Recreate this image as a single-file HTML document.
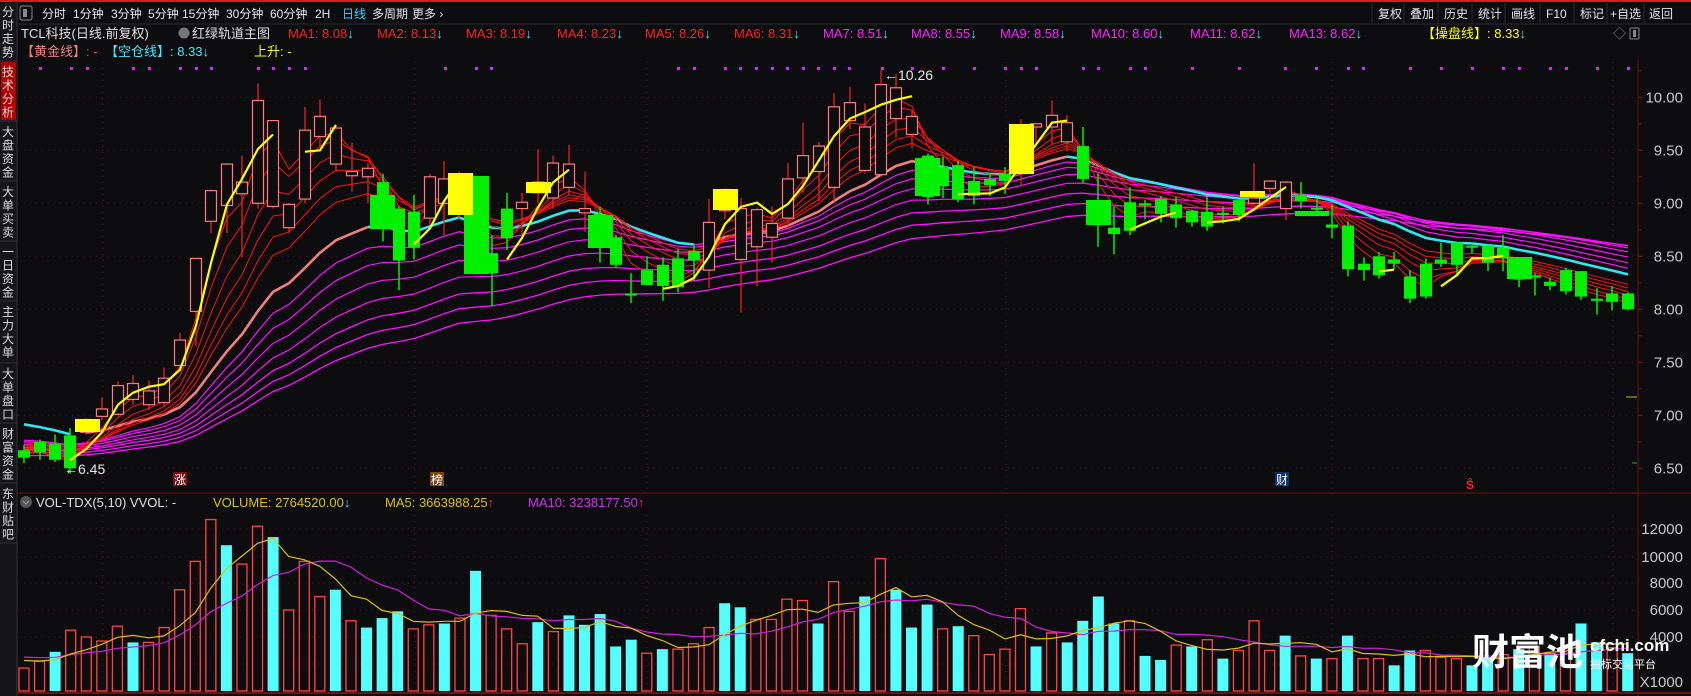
<!DOCTYPE html>
<html><head><meta charset="utf-8">
<style>
html,body{margin:0;padding:0;background:#0d0d10;width:1691px;height:696px;overflow:hidden}
svg{display:block}
text{font-family:"Liberation Sans","Noto Sans CJK SC",sans-serif}
</style></head>
<body>
<svg id="s" width="1691" height="696" xmlns="http://www.w3.org/2000/svg">
<rect width="1691" height="696" fill="#0d0d10"/>
<rect x="0" y="0" width="1691" height="2" fill="#d02020"/>
<rect x="0" y="2" width="17" height="694" fill="#16161a"/>
<line x1="17" y1="2" x2="17" y2="696" stroke="#333" stroke-width="1"/>
<g id="side" font-size="12" fill="#ddd"></g>
<line x1="17" y1="24" x2="1691" y2="24" stroke="#2a2a2e"/>
<rect x="20" y="6" width="12" height="14" fill="none" stroke="#888" rx="2"/>
<rect x="23" y="9" width="4" height="8" fill="#888"/>
<g font-size="12" fill="#e6e6e6">
<text x="42" y="18">分时</text><text x="73" y="18">1分钟</text><text x="111" y="18">3分钟</text><text x="148" y="18">5分钟</text><text x="182" y="18">15分钟</text><text x="226" y="18">30分钟</text><text x="270" y="18">60分钟</text><text x="315" y="18">2H</text><text x="342" y="18" fill="#39d0ff">日线</text><text x="372" y="18">多周期</text><text x="412" y="18">更多 ›</text>
<text x="1378" y="18">复权</text><text x="1410" y="18">叠加</text><text x="1444" y="18">历史</text><text x="1478" y="18">统计</text><text x="1511" y="18">画线</text><text x="1546" y="18">F10</text><text x="1580" y="18">标记</text><text x="1610" y="18">+自选</text><text x="1649" y="18">返回</text>
</g>
<g stroke="#2a2a2e"><line x1="1372" y1="3" x2="1372" y2="24"/><line x1="1404" y1="3" x2="1404" y2="24"/><line x1="1438" y1="3" x2="1438" y2="24"/><line x1="1472" y1="3" x2="1472" y2="24"/><line x1="1505" y1="3" x2="1505" y2="24"/><line x1="1540" y1="3" x2="1540" y2="24"/><line x1="1574" y1="3" x2="1574" y2="24"/><line x1="1607" y1="3" x2="1607" y2="24"/><line x1="1644" y1="3" x2="1644" y2="24"/></g>
<g font-size="13">
<text x="21" y="38" fill="#e0e0e0">TCL科技(日线.前复权)</text>
<circle cx="184" cy="33" r="5.5" fill="#777"/>
<text x="192" y="38" fill="#e0e0e0">红绿轨道主图</text>
<text x="288" y="38" fill="#ff2020">MA1: 8.08<tspan fill="#40e0ff">↓</tspan></text>
<text x="377" y="38" fill="#ff2020">MA2: 8.13<tspan fill="#40e0ff">↓</tspan></text>
<text x="466" y="38" fill="#ff2020">MA3: 8.19<tspan fill="#40e0ff">↓</tspan></text>
<text x="557" y="38" fill="#ff2020">MA4: 8.23<tspan fill="#40e0ff">↓</tspan></text>
<text x="645" y="38" fill="#ff2020">MA5: 8.26<tspan fill="#40e0ff">↓</tspan></text>
<text x="734" y="38" fill="#ff2020">MA6: 8.31<tspan fill="#40e0ff">↓</tspan></text>
<text x="823" y="38" fill="#ff20ff">MA7: 8.51<tspan fill="#40e0ff">↓</tspan></text>
<text x="911" y="38" fill="#ff20ff">MA8: 8.55<tspan fill="#40e0ff">↓</tspan></text>
<text x="1000" y="38" fill="#ff20ff">MA9: 8.58<tspan fill="#40e0ff">↓</tspan></text>
<text x="1091" y="38" fill="#ff20ff">MA10: 8.60<tspan fill="#40e0ff">↓</tspan></text>
<text x="1190" y="38" fill="#ff20ff">MA11: 8.62<tspan fill="#40e0ff">↓</tspan></text>
<text x="1289" y="38" fill="#ff20ff">MA13: 8.62<tspan fill="#40e0ff">↓</tspan></text>
<text x="1422" y="38" fill="#ffff00">【操盘线】: 8.33<tspan fill="#40e0ff">↓</tspan></text>
<text x="1613" y="38" fill="#888">◇</text>
<rect x="1630" y="28" width="9" height="11" fill="none" stroke="#888" rx="1"/><rect x="1633" y="30" width="3" height="7" fill="#888"/>
<text x="21" y="56" fill="#f08080">【黄金线】<tspan fill="#ff4040">: -</tspan></text>
<text x="105" y="56" fill="#40e8ff">【空仓线】: 8.33↓</text>
<text x="254" y="56" fill="#ffff00">上升: -</text>
</g>
<g id="grid"></g>
<g id="chart"></g>
<line x1="1638" y1="60" x2="1638" y2="696" stroke="#6a1515"/>
<line x1="17" y1="493" x2="1691" y2="493" stroke="#6a1515"/>
<line x1="17" y1="693" x2="1691" y2="693" stroke="#6a1515" stroke-width="2"/>
<g font-size="15" fill="#c8c8c8" text-anchor="end" id="axis"></g>
<circle cx="26" cy="502" r="6" fill="#555"/>
<path d="M23 501 L26 504 L29 501" stroke="#999" fill="none"/>
<g font-size="13">
<text x="36" y="507" fill="#e0e0e0">VOL-TDX(5,10) VVOL: -</text>
<text x="213" y="507" fill="#e0c000">VOLUME: 2764520.00<tspan fill="#40e0ff">↓</tspan></text>
<text x="385" y="507" fill="#e0c000">MA5: 3663988.25<tspan fill="#ff3030">↑</tspan></text>
<text x="528" y="507" fill="#d030f0">MA10: 3238177.50<tspan fill="#ff3030">↑</tspan></text>
</g>
<rect x="173" y="472" width="14" height="14" fill="#7a0f0f"/><text x="174" y="484" font-size="12" fill="#fff">涨</text>
<rect x="430" y="472" width="14" height="14" fill="#7a4510"/><text x="431" y="484" font-size="12" fill="#fff">榜</text>
<rect x="1275" y="472" width="14" height="14" fill="#10306a"/><text x="1276" y="484" font-size="12" fill="#fff">财</text>
<text x="1466" y="489" font-size="12" fill="#ff2020" font-weight="bold">Ŝ</text>
<text x="1472" y="665" font-size="37" font-weight="bold" fill="#ffffff">财富池</text>
<text x="1590" y="651" font-size="17" font-weight="bold" fill="#ffffff">cfchi.com</text>
<text x="1590" y="668" font-size="11" fill="#ffffff">指标交易平台</text>
</svg>
<script>
var NS="http://www.w3.org/2000/svg";
function el(p,t,a){var e=document.createElementNS(NS,t);for(var k in a)e.setAttribute(k,a[k]);p.appendChild(e);return e;}
var chart=document.getElementById('chart'),grid=document.getElementById('grid'),axis=document.getElementById('axis'),side=document.getElementById('side');
function Y(p){return 97.3+(10-p)*106;}
var secs=[["分时走势",2,60,0],["技术分析",62,120,1],["大盘资金",122,180,0],["大单买卖",182,240,0],["一日资金",242,300,0],["主力大单",302,362,0],["大单盘口",364,422,0],["财富资金",424,482,0],["东财贴吧",484,542,0]];
secs.forEach(function(s){if(s[3])el(side,'rect',{x:1,y:s[1],width:15,height:s[2]-s[1],fill:'#b00000'});el(side,'line',{x1:0,y1:s[2]+1,x2:17,y2:s[2]+1,stroke:'#333'});
for(var i=0;i<4;i++){var t=el(side,'text',{x:2,y:s[1]+14+i*13.5});t.textContent=s[0][i];}});
function dotted(x1,y1,x2,y2){el(grid,'line',{x1:x1,y1:y1,x2:x2,y2:y2,stroke:'#5a1010','stroke-dasharray':'1,5'});}
[10,9.5,9,8.5,8,7.5,7,6.5].forEach(function(p){var y=Y(p);dotted(18,y,1637,y);var t=el(axis,'text',{x:1683,y:y+5});t.textContent=p.toFixed(2);el(grid,'line',{x1:1638,y1:y,x2:1643,y2:y,stroke:'#6a1515'});});
for(var p=6.5;p<10.3;p+=0.25){el(grid,'line',{x1:1638,y1:Y(p),x2:1642,y2:Y(p),stroke:'#6a1515'});}
[103,415,647,1006,1332,1613].forEach(function(x){dotted(x,62,x,490);dotted(x,515,x,690);});
[[12000,529],[10000,557],[8000,583],[6000,610],[4000,637]].forEach(function(a){dotted(18,a[1],1637,a[1]);var t=el(axis,'text',{x:1683,y:a[1]+5});t.textContent=a[0];});
dotted(18,664,1637,664);
var t=el(axis,'text',{x:1683,y:687});t.textContent="X1000";
var C=[[24,6.67,6.60,6.72,6.55],[40,6.75,6.65,6.77,6.58],[55,6.73,6.58,6.82,6.56],[70,6.81,6.50,6.88,6.45],[86,6.84,6.96,6.97,6.82],[102,6.99,7.06,7.17,6.95],[118,7.01,7.28,7.32,6.99],[133,7.15,7.30,7.38,7.10],[149,7.10,7.23,7.33,7.05],[164,7.12,7.35,7.45,7.08],[180,7.47,7.71,7.78,7.45],[196,7.98,8.48,8.48,7.65],[211,8.83,9.12,9.13,8.72],[227,8.98,9.37,9.38,8.72],[242,9.09,9.20,9.45,8.49],[258,9.0,9.97,10.13,8.95],[273,8.97,9.78,9.78,8.95],[289,8.77,8.99,9.0,8.72],[305,9.04,9.69,9.91,9.0],[320,9.63,9.82,9.98,9.53],[336,9.37,9.71,9.72,9.3],[352,9.26,9.30,9.57,9.11],[368,9.25,9.33,9.38,9.0],[383,9.2,8.8,9.28,8.64],[399,8.95,8.46,8.97,8.18],[414,8.92,8.58,9.08,8.47],[430,8.86,9.25,9.28,8.8],[444,9.0,9.23,9.4,8.7],[459,8.9,9.2,9.3,8.85],[475,9.2,8.4,9.26,8.33],[492,8.53,8.34,8.7,8.03],[507,8.95,8.67,9.1,8.56],[522,8.95,9.01,9.1,8.7],[538,9.1,9.2,9.51,9.0],[553,9.05,9.38,9.45,8.95],[569,9.15,9.37,9.55,9.08],[585,8.91,8.95,9.3,8.73],[600,8.9,8.6,8.97,8.44],[616,8.68,8.42,8.7,8.4],[631,8.15,8.13,8.34,8.06],[647,8.37,8.23,8.5,8.23],[663,8.42,8.22,8.49,8.08],[678,8.48,8.21,8.57,8.16],[694,8.55,8.46,8.62,8.27],[709,8.37,8.82,9.04,8.2],[725,8.93,9.13,9.14,8.85],[741,8.47,8.95,9.05,7.97],[757,8.59,8.94,8.96,8.22],[772,8.68,8.81,8.97,8.44],[788,8.86,9.23,9.38,8.75],[803,9.24,9.45,9.76,9.1],[819,9.3,9.54,9.58,9.02],[834,9.15,9.91,10.04,9.02],[850,9.78,9.95,10.1,9.7],[865,9.31,9.72,9.94,9.28],[881,9.27,10.12,10.26,9.25],[896,9.8,10.09,10.22,9.62],[912,9.65,9.82,9.88,9.52],[928,9.45,9.06,9.47,8.99],[943,9.34,9.16,9.44,9.05],[958,9.36,9.04,9.4,9.01],[974,9.21,9.07,9.34,8.99],[990,9.23,9.17,9.29,9.07],[1005,9.28,9.21,9.34,9.09],[1021,9.28,9.7,9.79,9.16],[1036,9.72,9.75,9.76,9.56],[1052,9.72,9.83,9.97,9.56],[1067,9.58,9.76,9.83,9.49],[1083,9.54,9.23,9.72,9.19],[1098,9.0,8.8,9.28,8.59],[1114,8.77,8.71,8.97,8.52],[1130,9.01,8.74,9.15,8.7],[1145,9.0,8.98,9.03,8.85],[1161,9.04,8.9,9.07,8.82],[1176,8.99,8.86,9.06,8.77],[1192,8.93,8.82,8.94,8.78],[1207,8.92,8.78,9.07,8.74],[1223,8.91,8.89,8.97,8.81],[1239,9.03,8.89,9.03,8.83],[1254,9.0,9.05,9.38,8.98],[1270,9.14,9.21,9.22,9.1],[1286,8.95,9.2,9.21,8.84],[1301,9.08,9.02,9.2,8.95],[1317,8.96,8.94,9.05,8.88],[1332,8.8,8.77,8.99,8.67],[1348,8.79,8.38,8.83,8.31],[1364,8.43,8.37,8.49,8.27],[1379,8.5,8.32,8.54,8.29],[1394,8.47,8.43,8.54,8.38],[1410,8.31,8.1,8.37,8.06],[1426,8.43,8.12,8.48,8.1],[1441,8.47,8.43,8.63,8.4],[1457,8.63,8.42,8.63,8.31],[1472,8.6,8.59,8.63,8.53],[1488,8.6,8.44,8.6,8.36],[1503,8.58,8.48,8.7,8.36],[1519,8.49,8.28,8.49,8.21],[1535,8.32,8.3,8.34,8.13],[1550,8.26,8.22,8.3,8.18],[1566,8.37,8.17,8.39,8.14],[1581,8.36,8.12,8.36,8.09],[1597,8.1,8.08,8.2,7.95],[1612,8.15,8.07,8.22,7.99],[1628,8.15,8.0,8.16,7.99]];
function ema(per,init){var v=init,r=[];C.forEach(function(c){v=v+(c[2]-v)*2/(per+1);r.push(v);});return r;}
function line(vals,color,w,filter){var d="",pen=false;for(var i=0;i<C.length;i++){if(filter&&!filter(i)){pen=false;continue;}d+=(pen?"L":"M")+C[i][0]+" "+Y(vals[i]).toFixed(1)+" ";pen=true;}el(chart,'path',{d:d,stroke:color,'stroke-width':w,fill:'none'});}
[[60,6.62],[52,6.65],[45,6.68],[38,6.70],[32,6.73],[27,6.76],[23,6.78]].forEach(function(a,k){line(ema(a[0],a[1]),'#ff10ff',k<3?1.3:1.2);});
var th=ema(19,6.95);
var cyanR=[[0,78],[360,706],[925,1012],[1060,1700]];
function isCy(x){return cyanR.some(function(r){return x>=r[0]&&x<=r[1];});}
line(th,'#f08080',2.6,function(i){return !isCy(C[i][0])||(i>0&&!isCy(C[i-1][0]));});
line(th,'#30e8f0',2.6,function(i){return isCy(C[i][0]);});
[[13,6.78],[11,6.76],[9,6.74],[7,6.72],[5,6.70],[3.5,6.68]].forEach(function(a){line(ema(a[0],a[1]),'#ff1010',1);});
C.forEach(function(c){var x=c[0],up=c[2]>=c[1];var top=Y(Math.max(c[1],c[2])),bot=Y(Math.min(c[1],c[2]));if(bot-top<2)bot=top+2;
if(up){el(chart,'line',{x1:x,y1:Y(c[3]),x2:x,y2:top,stroke:'#ff2020','stroke-width':1.2});el(chart,'line',{x1:x,y1:bot,x2:x,y2:Y(c[4]),stroke:'#ff2020','stroke-width':1.2});
el(chart,'rect',{x:x-5.5,y:top,width:11,height:bot-top,fill:'#0d0d10',stroke:'#ff7a7a','stroke-width':1.2});}
else{el(chart,'line',{x1:x,y1:Y(c[3]),x2:x,y2:Y(c[4]),stroke:'#00f000','stroke-width':1.5});el(chart,'rect',{x:x-6,y:top,width:12,height:bot-top,fill:'#00f000'});}});
[[370,395,195,229],[464,489,176,274],[588,613,215,248],[915,940,158,196],[1086,1111,200,225],[1295,1329,211,216],[1507,1532,257,279]].forEach(function(b){el(chart,'rect',{x:b[0],y:b[2],width:b[1]-b[0],height:b[3]-b[2],fill:'#00f000'});});
[[75,100,419,432],[448,473,173,215],[526,551,182,193],[713,738,189,210],[1009,1034,124,174],[1240,1265,191,197]].forEach(function(b){el(chart,'rect',{x:b[0],y:b[2],width:b[1]-b[0],height:b[3]-b[2],fill:'#ffff00'});});
var m3=C.map(function(c,i){var s=0,n=0;for(var j=Math.max(0,i-2);j<=i;j++){s+=C[j][2];n++;}return s/n;});
line(m3,'#ffff00',2.2,function(i){return i>=3&&((i+1<C.length&&m3[i+1]>m3[i])||m3[i]>m3[i-1]);});
[40,71,87,133,149,180,196,211,258,273,289,305,445,476,491,678,694,725,740,756,772,787,803,818,834,849,882,912,943,974,1005,1021,1036,1083,1098,1130,1145,1192,1239,1285,1316,1348,1363,1410,1441,1472,1503,1519,1550,1566,1597,1628].forEach(function(x){el(chart,'rect',{x:x-1,y:67,width:3,height:3,fill:'#ff10ff'});});
var a=el(chart,'text',{x:884,y:80,'font-size':14,fill:'#e8e8e8'});a.textContent="←10.26";
a=el(chart,'text',{x:64,y:474,'font-size':14,fill:'#e8e8e8'});a.textContent="←6.45";
el(chart,'line',{x1:1626,y1:397,x2:1637,y2:397,stroke:'#c0c000'});
el(chart,'line',{x1:1632,y1:463,x2:1637,y2:463,stroke:'#00c000'});
var V="1.7R 2.2R 2.9C 4.5R 4.0R 3.7R 4.8R 3.6C 3.6R 4.7R 7.5R 9.6R 12.7R 10.8C 9.4R 12.2R 11.4C 6.0R 9.6R 7.0R 7.5C 5.2R 4.7C 5.4C 5.9C 4.6R 4.9R 5.0C 5.4R 8.9C 5.6R 4.6R 3.5R 5.1C 4.4R 5.6C 4.9C 5.7C 3.3C 3.8C 2.8R 3.1C 3.1R 3.5R 4.7R 6.5C 6.2C 5.3R 5.3R 6.8R 6.7R 5.0C 8.1R 5.9R 7.0C 9.8R 7.5C 4.7C 6.4C 4.6R 4.8C 4.1R 2.7R 3.1R 6.1R 3.3C 4.3R 3.6C 5.2C 7.0C 5.0C 5.2R 2.6C 2.3C 3.4R 3.3C 3.8R 2.4C 3.0R 5.2R 3.0R 4.1C 2.6R 2.4C 2.4R 4.1C 2.4R 2.4R 1.9C 3.0C 3.0R 2.5R 2.4R 1.9C 2.5C 2.7R 3.1C 3.3R 2.8C 2.8R 5.0C 3.6C 3.2R 2.8C".split(" ");
var vols=V.map(function(s){return parseFloat(s);});
function VY(v){return 691-v*13.5;}
V.forEach(function(s,k){var x=24+k*15.57,v=vols[k],y=VY(v);
if(s.slice(-1)=="C")el(chart,'rect',{x:x-5.5,y:y,width:11,height:691-y,fill:'#55ffff'});
else el(chart,'rect',{x:x-5,y:y,width:10,height:691-y,fill:'none',stroke:'#ff4444','stroke-width':1.3});});
function vma(n,init){return vols.map(function(v,i){var s=0;for(var j=i-n+1;j<=i;j++){s+=j<0?init:vols[j];}return s/n;});}
function vline(arr,color){var d="";arr.forEach(function(v,k){d+=(k?"L":"M")+(24+k*15.57).toFixed(1)+" "+VY(v).toFixed(1)+" ";});el(chart,'path',{d:d,stroke:color,'stroke-width':1.2,fill:'none'});}
vline(vma(10,2.6),'#d020e0');
vline(vma(5,2.4),'#e0c000');
</script>
</body></html>
